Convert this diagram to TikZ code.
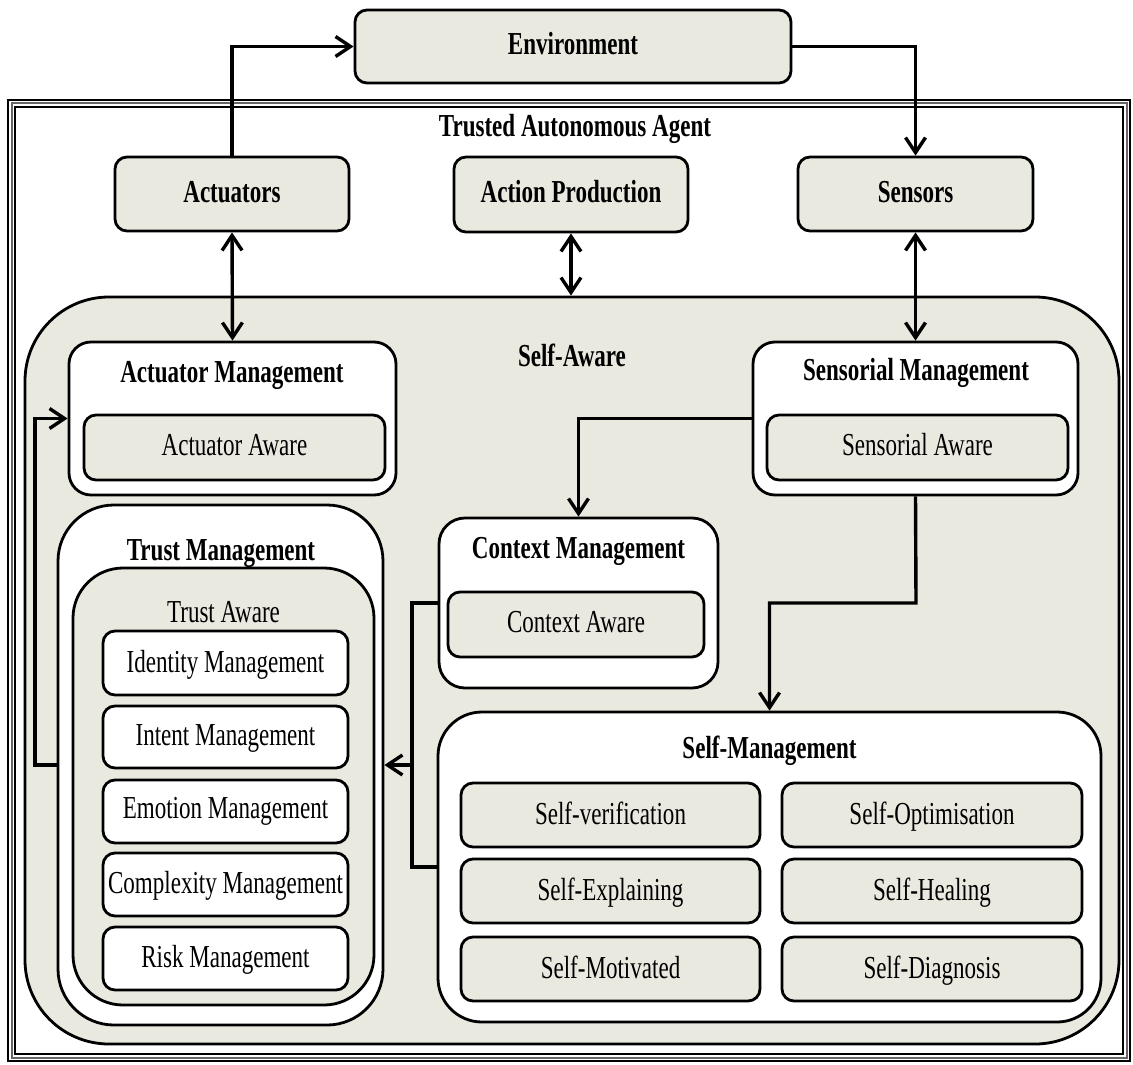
\documentclass[tikz,border=0pt]{standalone}
\usepackage{fontspec}
\setmainfont{Liberation Serif}[FakeStretch=0.72]
\usetikzlibrary{arrows.meta,fit}
\definecolor{beige}{RGB}{234,233,224}
\begin{document}
\begin{tikzpicture}[x=0.5pt,y=-0.5pt,
  txt/.style={font=\fontsize{16pt}{19pt}\selectfont},
  btxt/.style={font=\fontsize{16pt}{19pt}\selectfont\bfseries},
  box/.style={draw, line width=1.4pt, inner sep=0pt, rounded corners=6pt},
  bbox/.style={box, fill=beige},
  wbox/.style={box, fill=white},
  lbl/.style={inner sep=0pt, text height=11pt, text depth=2pt},
  conn/.style={line width=1.7pt},
  arr/.style={conn, -{Straight Barb[length=7.5pt,width=10pt]}},
  darr/.style={conn, {Straight Barb[length=7.5pt,width=10pt]}-{Straight Barb[length=7.5pt,width=10pt]}},
  frm/.style={draw, line width=1pt, inner sep=0pt}
]
\useasboundingbox (0,0) rectangle (1133,1064);
% outer frame (Trusted Autonomous Agent)
\node[frm, fit={(8,100) (1130,1061)}] (frameA) {};
\node[frm, draw=black!60, fit={(11.5,103.5) (1126.5,1057.5)}] (frameB) {};
\node[frm, fit={(15,107) (1123,1054)}] (frameC) {};
\node[lbl, btxt] (taa) at (575,128) {Trusted Autonomous Agent};
% environment
\node[bbox, fit={(355,10) (791,83)}] (env) {};
\node[lbl, btxt] (envt) at (573,46) {Environment};
% top row
\node[bbox, fit={(115,157) (349,231)}] (act) {};
\node[lbl, btxt] (actt) at (232,194) {Actuators};
\node[bbox, fit={(454,157) (688,232)}] (ap) {};
\node[lbl, btxt] (apt) at (571,194) {Action Production};
\node[bbox, fit={(798,157) (1033,231)}] (sens) {};
\node[lbl, btxt] (senst) at (915.5,194) {Sensors};
% self-aware
\node[bbox, rounded corners=42pt, fit={(25,297) (1119,1044)}] (sa) {};
\node[lbl, btxt] (sat) at (572,357) {Self-Aware};
% actuator management
\node[wbox, rounded corners=11pt, fit={(69,342) (396,495)}] (actm) {};
\node[lbl, btxt] (actmt) at (232,373) {Actuator Management};
\node[bbox, fit={(84,415) (385,480)}] (acta) {};
\node[lbl, txt] (actat) at (234.5,446) {Actuator Aware};
% sensorial management
\node[wbox, rounded corners=11pt, fit={(753,342) (1078,495)}] (sensm) {};
\node[lbl, btxt] (sensmt) at (916,371) {Sensorial Management};
\node[bbox, fit={(767,415) (1068,480)}] (sensa) {};
\node[lbl, txt] (sensat) at (917.5,446) {Sensorial Aware};
% trust management
\node[wbox, rounded corners=28pt, fit={(58,505) (383,1025)}] (trust) {};
\node[lbl, btxt] (trustt) at (221,551) {Trust Management};
\node[bbox, rounded corners=25pt, fit={(73,568) (374,1005)}] (trusta) {};
\node[lbl, txt] (trustat) at (223.5,613) {Trust Aware};
\node[wbox, fit={(103,631) (348,695)}] (idm) {};
\node[lbl, txt] (idmt) at (225.5,663) {Identity Management};
\node[wbox, fit={(103,706) (348,768)}] (inm) {};
\node[lbl, txt] (inmt) at (225.5,736) {Intent Management};
\node[wbox, fit={(103,780) (348,843)}] (emm) {};
\node[lbl, txt] (emmt) at (225.5,809) {Emotion Management};
\node[wbox, fit={(103,853) (348,916)}] (com) {};
\node[lbl, txt] (comt) at (225.5,884) {Complexity Management};
\node[wbox, fit={(103,927) (348,990)}] (rim) {};
\node[lbl, txt] (rimt) at (225.5,958) {Risk Management};
% context management
\node[wbox, rounded corners=13pt, fit={(439,518) (718,688)}] (ctx) {};
\node[lbl, btxt] (ctxt) at (578.5,549) {Context Management};
\node[bbox, fit={(448,592) (704,657)}] (ctxa) {};
\node[lbl, txt] (ctxat) at (576,623) {Context Aware};
% self-management
\node[wbox, rounded corners=22pt, fit={(438,712) (1101,1022)}] (selfm) {};
\node[lbl, btxt] (selfmt) at (769.5,749) {Self-Management};
\node[bbox, fit={(461,783) (760,847)}] (sv) {};
\node[lbl, txt] (svt) at (610.5,815) {Self-verification};
\node[bbox, fit={(782,783) (1082,847)}] (so) {};
\node[lbl, txt] (sot) at (932,815) {Self-Optimisation};
\node[bbox, fit={(461,859) (760,923)}] (se) {};
\node[lbl, txt] (set) at (610.5,891) {Self-Explaining};
\node[bbox, fit={(782,859) (1082,923)}] (sh) {};
\node[lbl, txt] (sht) at (932,891) {Self-Healing};
\node[bbox, fit={(461,937) (760,1001)}] (smo) {};
\node[lbl, txt] (smot) at (610.5,969) {Self-Motivated};
\node[bbox, fit={(782,937) (1082,1001)}] (sd) {};
\node[lbl, txt] (sdt) at (932,969) {Self-Diagnosis};
% connectors
\draw[arr] (act.north) |- (env.west);
\draw[arr] (env.east) -| (sens.north);
\draw[darr] (act.south) -- (actm.north);
\draw[darr] (ap.south) -- (ap.south |- sa.north);
\draw[darr] (sens.south) -- (sensm.north);
\draw[arr] (sensm.west) -| (ctx.north);
\coordinate (bend) at (916,603);
\draw[arr] (sensm.south) -- (bend) -| (selfm.north);
\coordinate (jx) at (412,765);
\draw[conn] (ctx.west) -- (ctx.west -| jx) -- (selfm.west -| jx) -- (selfm.west);
\draw[arr] (jx) -- (trust.east |- jx);
\coordinate (lx) at (35,765);
\draw[arr] (trust.west |- lx) -- (lx) |- (actm.west);
\end{tikzpicture}
\end{document}
